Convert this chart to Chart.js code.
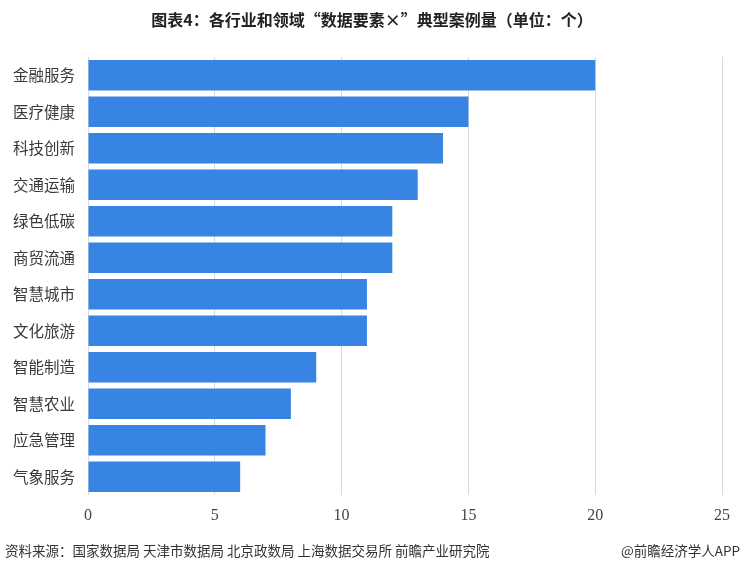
<!DOCTYPE html>
<html>
<head>
<meta charset="utf-8">
<script src="https://cdn.jsdelivr.net/npm/chart.js@4/dist/chart.umd.min.js"></script>
<style>
  html, body { margin: 0; padding: 0; background: #fff; }
  #wrap { width: 741px; height: 573px; position: relative; }
</style>
</head>
<body>
<div id="wrap"><canvas id="chart"></canvas></div>
<script>
const categories = ["金融服务", "医疗健康", "科技创新", "交通运输", "绿色低碳", "商贸流通",
    "智慧城市", "文化旅游", "智能制造", "智慧农业", "应急管理", "气象服务"];
const caseCounts = [20, 15, 14, 13, 12, 12, 11, 11, 9, 8, 7, 6];
const xTicks = [0, 5, 10, 15, 20, 25];

const titleText = "图表4：各行业和领域“数据要素×”典型案例量（单位：个）";
const sourceText = "资料来源：国家数据局 天津市数据局 北京政数局 上海数据交易所 前瞻产业研究院";
const brandText = "@前瞻经济学人APP";

const textPlugin = {
    id: "texts",
    afterDraw(chart) {
        const ctx = chart.ctx;
        ctx.save();
        ctx.fillStyle = "#222";
        ctx.font = "bold 16px 'Noto Sans CJK SC', sans-serif";
        ctx.textAlign = "center";
        ctx.textBaseline = "middle";
        ctx.fillText(titleText, 372, 20);

        ctx.fillStyle = "#333";
        ctx.font = "13.5px 'Noto Sans CJK SC', sans-serif";
        ctx.textAlign = "left";
        ctx.fillText(sourceText, 5, 551);
        ctx.textAlign = "right";
        ctx.fillText(brandText, 740, 551);
        ctx.restore();
    }
};

new Chart(document.getElementById("chart").getContext("2d"), {
    type: "bar",
    data: {
        labels: categories,
        datasets: [{
            data: caseCounts,
            backgroundColor: "#3784e3",
            categoryPercentage: 0.83,
            barPercentage: 1.0
        }]
    },
    options: {
        indexAxis: "y",
        responsive: true,
        maintainAspectRatio: false,
        animation: false,
        layout: { padding: { top: 57, right: 17, bottom: 43, left: 0 } },
        plugins: {
            legend: { display: false },
            tooltip: { enabled: false }
        },
        scales: {
            x: {
                min: 0,
                max: 25,
                afterBuildTicks: scale => { scale.ticks = xTicks.map(v => ({ value: v })); },
                afterFit: scale => { scale.height = 35; },
                grid: { color: "#d9d9d9", drawTicks: false },
                border: { display: false },
                ticks: {
                    padding: 11,
                    color: "#444",
                    font: { family: "'Liberation Serif', serif", size: 16 }
                }
            },
            y: {
                afterFit: scale => { scale.width = 88; },
                grid: { display: false },
                border: { display: false },
                ticks: {
                    padding: 5,
                    color: "#3a3a3a",
                    font: { family: "'Noto Sans CJK SC', sans-serif", size: 15.5 }
                }
            }
        }
    },
    plugins: [textPlugin]
});
</script>
</body>
</html>
